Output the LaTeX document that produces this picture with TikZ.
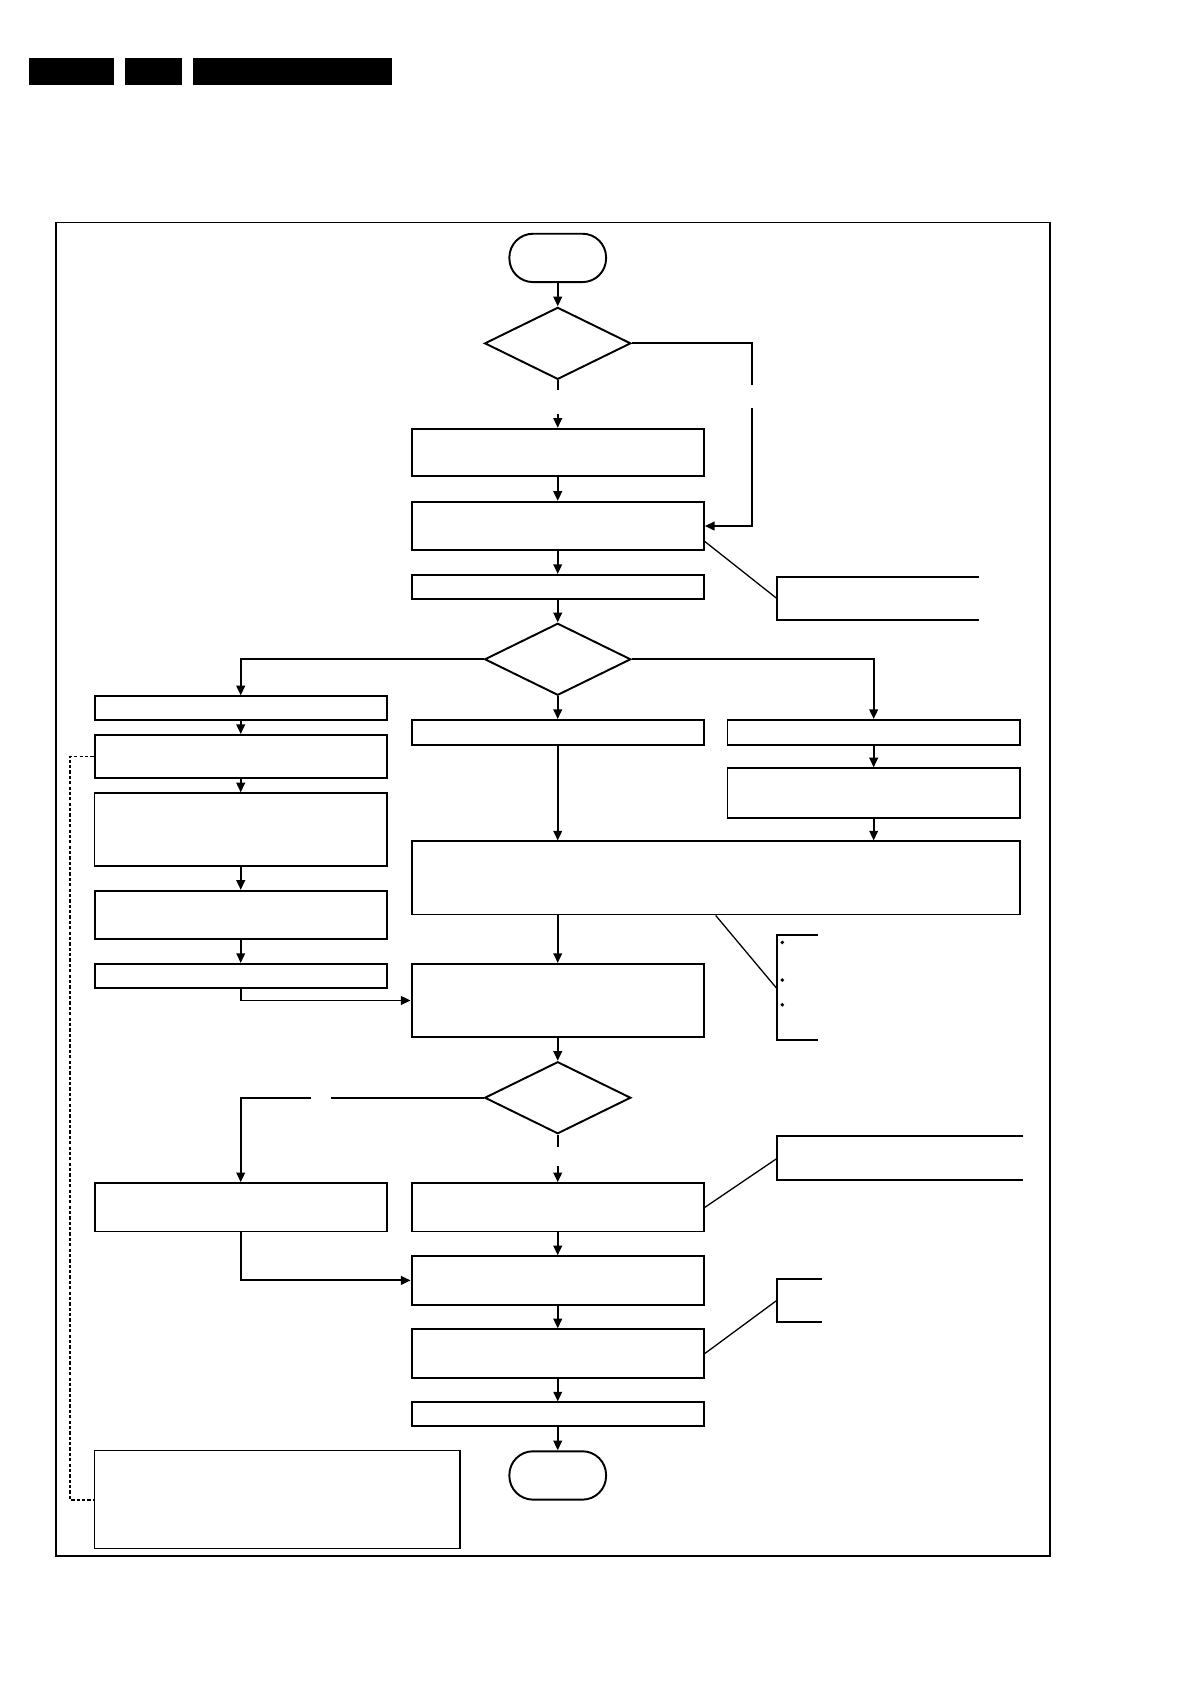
\documentclass[tikz,border=0pt]{standalone}
\usetikzlibrary{arrows.meta, positioning, shapes.geometric, calc}

\begin{document}
\begin{tikzpicture}[
  x=0.5pt, y=-0.5pt,
  box/.style={draw, line width=0.9pt, minimum width=136pt, inner sep=0pt},
  thinbox/.style={box, line width=0.65pt},
  term/.style={draw, line width=0.9pt, rounded corners=11pt, minimum width=45pt, minimum height=22.5pt, inner sep=0pt},
  dec/.style={draw, diamond, line width=0.9pt, minimum width=68pt, minimum height=33.5pt, inner sep=0pt},
  arr/.style={line width=0.9pt, -{Triangle[length=4.5pt, width=4pt]}},
  ln/.style={line width=0.9pt}
]
  \useasboundingbox (0,0) rectangle (1109,1568);

  % header bars
  \fill (27,54) rectangle (106,79);
  \fill (116,54) rectangle (169,79);
  \fill (180,54) rectangle (365,79);

  % frame
  \draw[line width=0.6pt] (52,207) rectangle (977,1448);

  % main column
  \node[term] (start) at (519,240) {};
  \node[dec] (dec1) at (519,319.5) {};
  \node[box, minimum height=22pt] (b1) at (519,421) {};
  \node[box, minimum height=22.5pt] (b2) at (519,489.5) {};
  \node[box, minimum height=11pt] (b3) at (519,546) {};
  \node[dec] (dec2) at (519,613.5) {};
  \node[box, minimum height=11.5pt] (m1) at (519,681.5) {};
  \node[box, minimum width=283pt, minimum height=34pt] (big) at (666,817) {};
  \node[box, minimum height=34pt] (m2) at (519,931) {};
  \node[dec] (dec3) at (519,1021.5) {};
  \node[box, minimum height=22.5pt] (m3) at (519,1123.5) {};
  \node[box, minimum height=22.5pt] (m4) at (519,1191.5) {};
  \node[box, minimum height=22.5pt] (m5) at (519,1259.5) {};
  \node[box, minimum height=11pt] (m6) at (519,1316) {};
  \node[term] (stop) at (519,1373) {};

  % left column
  \node[box, minimum height=11pt] (l1) at (224,659) {};
  \node[box, minimum height=20pt] (l2) at (224,704) {};
  \node[thinbox, minimum height=34pt] (l3) at (224,772) {};
  \node[box, minimum height=22.5pt] (l4) at (224,851.5) {};
  \node[box, minimum height=11pt] (l5) at (224,908) {};
  \node[box, minimum height=22.5pt] (l6) at (224,1123.5) {};
  \node[thinbox, minimum width=170pt, minimum height=45.5pt] (l7) at (258,1395.5) {};

  % right column
  \node[box, minimum height=11.5pt] (r1) at (813,681.5) {};
  \node[box, minimum height=23pt] (r2) at (813,738) {};

  % notes
  \coordinate (n1) at (723,557);
  \coordinate (n2) at (723,920);
  \coordinate (n3) at (723,1078);
  \coordinate (n4) at (723,1210);
  \draw[ln] (911,537) -- (723,537) -- (723,577) -- (911,577);
  \draw[ln] (761,870) -- (723,870) -- (723,968) -- (761,968);
  \draw[ln] (952,1057) -- (723,1057) -- (723,1098) -- (952,1098);
  \draw[ln] (765,1190) -- (723,1190) -- (723,1230) -- (765,1230);
  \foreach \yy in {877,912,935}
    \fill (728,\yy) circle (0.9pt);

  % connectors
  \draw[arr] (start) -- (dec1);
  \draw[ln] (dec1.south) -- (519,363);
  \draw[arr] (519,385) -- (b1.north);
  \draw[ln] (dec1.east) -| (700,358);
  \draw[arr] (700,380) |- (b2.east);
  \draw[arr] (b1) -- (b2);
  \draw[arr] (b2) -- (b3);
  \draw[arr] (b3) -- (dec2);
  \draw[line width=0.6pt] ([yshift=4.5pt]b2.south east) -- (n1);

  \draw[arr] (dec2.west) -| (l1.north);
  \draw[arr] (dec2.east) -| (r1.north);
  \draw[arr] (dec2) -- (m1);
  \draw[arr] (l1) -- (l2);
  \draw[arr] (l2) -- (l3);
  \draw[arr] (l3) -- (l4);
  \draw[arr] (l4) -- (l5);
  \draw[arr] (l5.south) |- (m2.west);
  \draw[arr] (r1) -- (r2);
  \draw[arr] (m1.south) -- (m1.south |- big.north);
  \draw[arr] (r2.south) -- (r2.south |- big.north);
  \draw[arr] (m2.north |- big.south) -- (m2.north);
  \draw[line width=0.6pt] (big.south) -- (n2);

  \draw[arr] (m2) -- (dec3);
  \draw[ln] (dec3.west) -- (308,1021.5);
  \draw[arr] (289,1021.5) -| (l6.north);
  \draw[ln] (dec3.south) -- (519,1067);
  \draw[arr] (519,1085) -- (m3.north);
  \draw[line width=0.6pt] (m3.east) -- (n3);
  \draw[arr] (l6.south) |- (m4.west);
  \draw[arr] (m3) -- (m4);
  \draw[arr] (m4) -- (m5);
  \draw[line width=0.6pt] (m5.east) -- (n4);
  \draw[arr] (m5) -- (m6);
  \draw[arr] (m6) -- (stop);

  % dotted link
  \draw[line width=0.8pt, dash pattern=on 1.5pt off 1pt] (l2.west) -- (65,704) -- (65,1395.5) -- (l7.west);
\end{tikzpicture}
\end{document}
